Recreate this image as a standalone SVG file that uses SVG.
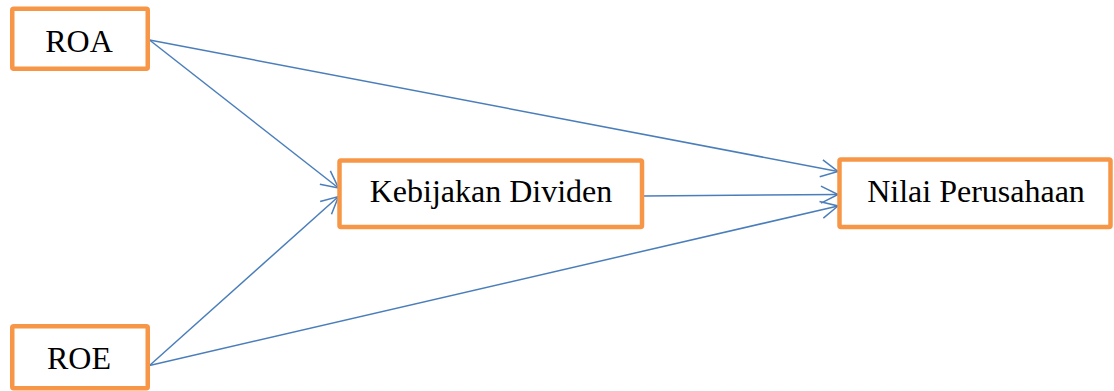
<svg xmlns="http://www.w3.org/2000/svg" width="1114" height="391" viewBox="0 0 1114 391">
  <style>
    .box { fill: #ffffff; stroke: #F79646; stroke-width: 4.5; }
    .lbl { font-family: "Liberation Serif", "Times New Roman", serif; font-size: 32px; fill: #000000; text-anchor: middle; }
    .conn { stroke: #4A7EBB; stroke-width: 1.5; fill: none; marker-end: url(#arr); }
  </style>
  <defs>
    <marker id="arr" viewBox="-20 -10 22 20" refX="0" refY="0" markerWidth="22" markerHeight="20" markerUnits="userSpaceOnUse" orient="auto" overflow="visible">
      <path d="M-17,-8.5 L0,0 L-17,8.5" fill="none" stroke="#4A7EBB" stroke-width="1.5"/>
    </marker>
  </defs>
  <rect width="1114" height="391" fill="#ffffff"/>
  <g id="connectors">
    <line class="conn" x1="149.5" y1="40" x2="838" y2="171.5"/>
    <line class="conn" x1="149.5" y1="40" x2="338.5" y2="188"/>
    <line class="conn" x1="149.5" y1="365.5" x2="338.5" y2="196.5"/>
    <line class="conn" x1="644" y1="196" x2="838" y2="194.5"/>
    <line class="conn" x1="149.5" y1="365.5" x2="838" y2="206"/>
  </g>
  <g id="roa">
    <rect class="box" x="12.25" y="8.75" width="135.5" height="60" rx="1.5"/>
    <text class="lbl" x="79" y="52">ROA</text>
  </g>
  <g id="roe">
    <rect class="box" x="12.25" y="326.25" width="135.5" height="62" rx="1.5"/>
    <text class="lbl" x="79" y="368.5">ROE</text>
  </g>
  <g id="kebijakan">
    <rect class="box" x="339.5" y="160.5" width="302.5" height="66.5" rx="1.5"/>
    <text class="lbl" x="491" y="202">Kebijakan Dividen</text>
  </g>
  <g id="nilai">
    <rect class="box" x="839.5" y="159.5" width="271" height="67.5" rx="1.5"/>
    <text class="lbl" x="976" y="202">Nilai Perusahaan</text>
  </g>
</svg>
